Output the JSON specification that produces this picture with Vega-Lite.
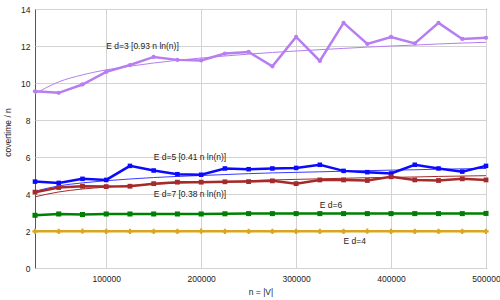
{
  "$schema": "https://vega.github.io/schema/vega-lite/v6.json",
  "width": 451,
  "height": 259,
  "autosize": {"type": "none"},
  "padding": {"left": 35, "top": 9, "right": 14, "bottom": 32},
  "config": {
    "font": "Liberation Sans",
    "view": {"stroke": "#555555", "strokeWidth": 1},
    "axis": {
      "gridColor": "#d3d3d3",
      "gridWidth": 1,
      "domain": false,
      "ticks": false,
      "labelFontSize": 8.5,
      "titleFontSize": 8.5,
      "labelColor": "#222222",
      "titleColor": "#222222",
      "titleFontWeight": "normal",
      "labelFlush": false,
      "labelOverlap": false
    }
  },
  "datasets": {
    "pts": [
      {"n": 25000, "d3": 9.55, "d5": 4.67, "d7": 4.10, "d6": 2.85, "d4": 1.98, "f3": 9.42, "f5": 4.15, "f7": 3.85},
      {"n": 50000, "d3": 9.47, "d5": 4.60, "d7": 4.35, "d6": 2.92, "d4": 1.98, "f3": 10.06, "f5": 4.44, "f7": 4.11},
      {"n": 75000, "d3": 9.92, "d5": 4.82, "d7": 4.42, "d6": 2.89, "d4": 1.99, "f3": 10.44, "f5": 4.60, "f7": 4.27},
      {"n": 100000, "d3": 10.6, "d5": 4.76, "d7": 4.40, "d6": 2.92, "d4": 1.98, "f3": 10.71, "f5": 4.72, "f7": 4.37},
      {"n": 125000, "d3": 10.97, "d5": 5.52, "d7": 4.42, "d6": 2.92, "d4": 1.98, "f3": 10.91, "f5": 4.81, "f7": 4.46},
      {"n": 150000, "d3": 11.41, "d5": 5.27, "d7": 4.56, "d6": 2.92, "d4": 1.98, "f3": 11.08, "f5": 4.89, "f7": 4.53},
      {"n": 175000, "d3": 11.25, "d5": 5.07, "d7": 4.64, "d6": 2.92, "d4": 1.98, "f3": 11.23, "f5": 4.95, "f7": 4.59},
      {"n": 200000, "d3": 11.22, "d5": 5.04, "d7": 4.64, "d6": 2.92, "d4": 1.99, "f3": 11.35, "f5": 5.00, "f7": 4.64},
      {"n": 225000, "d3": 11.59, "d5": 5.38, "d7": 4.66, "d6": 2.93, "d4": 1.98, "f3": 11.46, "f5": 5.05, "f7": 4.68},
      {"n": 250000, "d3": 11.68, "d5": 5.34, "d7": 4.67, "d6": 2.94, "d4": 1.98, "f3": 11.56, "f5": 5.10, "f7": 4.72},
      {"n": 275000, "d3": 10.9, "d5": 5.38, "d7": 4.71, "d6": 2.94, "d4": 1.98, "f3": 11.65, "f5": 5.14, "f7": 4.76},
      {"n": 300000, "d3": 12.49, "d5": 5.41, "d7": 4.56, "d6": 2.94, "d4": 1.98, "f3": 11.73, "f5": 5.17, "f7": 4.79},
      {"n": 325000, "d3": 11.19, "d5": 5.58, "d7": 4.76, "d6": 2.94, "d4": 1.98, "f3": 11.80, "f5": 5.20, "f7": 4.82},
      {"n": 350000, "d3": 13.25, "d5": 5.25, "d7": 4.76, "d6": 2.94, "d4": 1.98, "f3": 11.87, "f5": 5.23, "f7": 4.85},
      {"n": 375000, "d3": 12.11, "d5": 5.18, "d7": 4.73, "d6": 2.94, "d4": 1.99, "f3": 11.94, "f5": 5.26, "f7": 4.88},
      {"n": 400000, "d3": 12.49, "d5": 5.11, "d7": 4.93, "d6": 2.94, "d4": 1.98, "f3": 12.00, "f5": 5.29, "f7": 4.90},
      {"n": 425000, "d3": 12.14, "d5": 5.58, "d7": 4.76, "d6": 2.94, "d4": 1.98, "f3": 12.05, "f5": 5.31, "f7": 4.92},
      {"n": 450000, "d3": 13.25, "d5": 5.38, "d7": 4.73, "d6": 2.94, "d4": 1.98, "f3": 12.11, "f5": 5.34, "f7": 4.95},
      {"n": 475000, "d3": 12.38, "d5": 5.21, "d7": 4.82, "d6": 2.94, "d4": 1.98, "f3": 12.16, "f5": 5.36, "f7": 4.97},
      {"n": 500000, "d3": 12.44, "d5": 5.52, "d7": 4.76, "d6": 2.95, "d4": 1.98, "f3": 12.20, "f5": 5.38, "f7": 4.99}
    ],
    "lbl": [
      {"n": 100000, "v": 12.0, "text": "E d=3 [0.93 n ln(n)]"},
      {"n": 150000, "v": 6.0, "text": "E d=5 [0.41 n ln(n)]"},
      {"n": 150000, "v": 4.0, "text": "E d=7 [0.38 n ln(n)]"},
      {"n": 325000, "v": 3.42, "text": "E d=6"},
      {"n": 350000, "v": 1.48, "text": "E d=4"}
    ]
  },
  "encoding": {
    "x": {"field": "n", "type": "quantitative", "scale": {"domain": [25000, 500000], "nice": false, "zero": false},
          "axis": {"title": "n = |V|", "values": [100000, 200000, 300000, 400000, 500000], "format": "d", "labelPadding": 6, "titlePadding": 5}},
    "y": {"field": "v", "type": "quantitative", "scale": {"domain": [0, 14], "nice": false},
          "axis": {"title": "covertime / n", "values": [0, 2, 4, 6, 8, 10, 12, 14], "tickCount": 8, "labelOverlap": false, "labelPadding": 5, "titlePadding": 8, "titleY": 123}}
  },
  "layer": [
    {
      "data": {"name": "pts"},
      "transform": [{"fold": ["f3", "f5", "f7"], "as": ["series", "v"]}],
      "mark": {"type": "line", "strokeWidth": 1, "interpolate": "monotone"},
      "encoding": {
        "color": {"field": "series", "type": "nominal", "legend": null,
                  "scale": {"domain": ["d3", "d5", "d7", "d6", "d4", "f3", "f5", "f7"],
                            "range": ["#b77ef0", "#0a0aff", "#a52a2a", "#008000", "#daa520", "#b77ef0", "#3a3aff", "#a52a2a"]}}
      }
    },
    {
      "data": {"name": "pts"},
      "transform": [{"fold": ["d3", "d5", "d7", "d6", "d4"], "as": ["series", "v"]}],
      "mark": {"type": "line", "strokeWidth": 2.5},
      "encoding": {
        "color": {"field": "series", "type": "nominal", "legend": null}
      }
    },
    {
      "data": {"name": "pts"},
      "transform": [{"fold": ["d3", "d5", "d7", "d6", "d4"], "as": ["series", "v"]}],
      "mark": {"type": "point", "filled": true, "opacity": 1},
      "encoding": {
        "color": {"field": "series", "type": "nominal", "legend": null},
        "shape": {"field": "series", "type": "nominal", "legend": null,
                  "scale": {"domain": ["d3", "d5", "d7", "d6", "d4"], "range": ["circle", "square", "square", "square", "cross"]}},
        "size": {"field": "series", "type": "nominal", "legend": null,
                 "scale": {"domain": ["d3", "d5", "d7", "d6", "d4"], "range": [18, 28, 45, 50, 30]}}
      }
    },
    {
      "data": {"name": "lbl"},
      "mark": {"type": "text", "align": "left", "baseline": "middle", "fontSize": 8.5, "color": "#222222"},
      "encoding": {
        "text": {"field": "text"}
      }
    }
  ]
}
